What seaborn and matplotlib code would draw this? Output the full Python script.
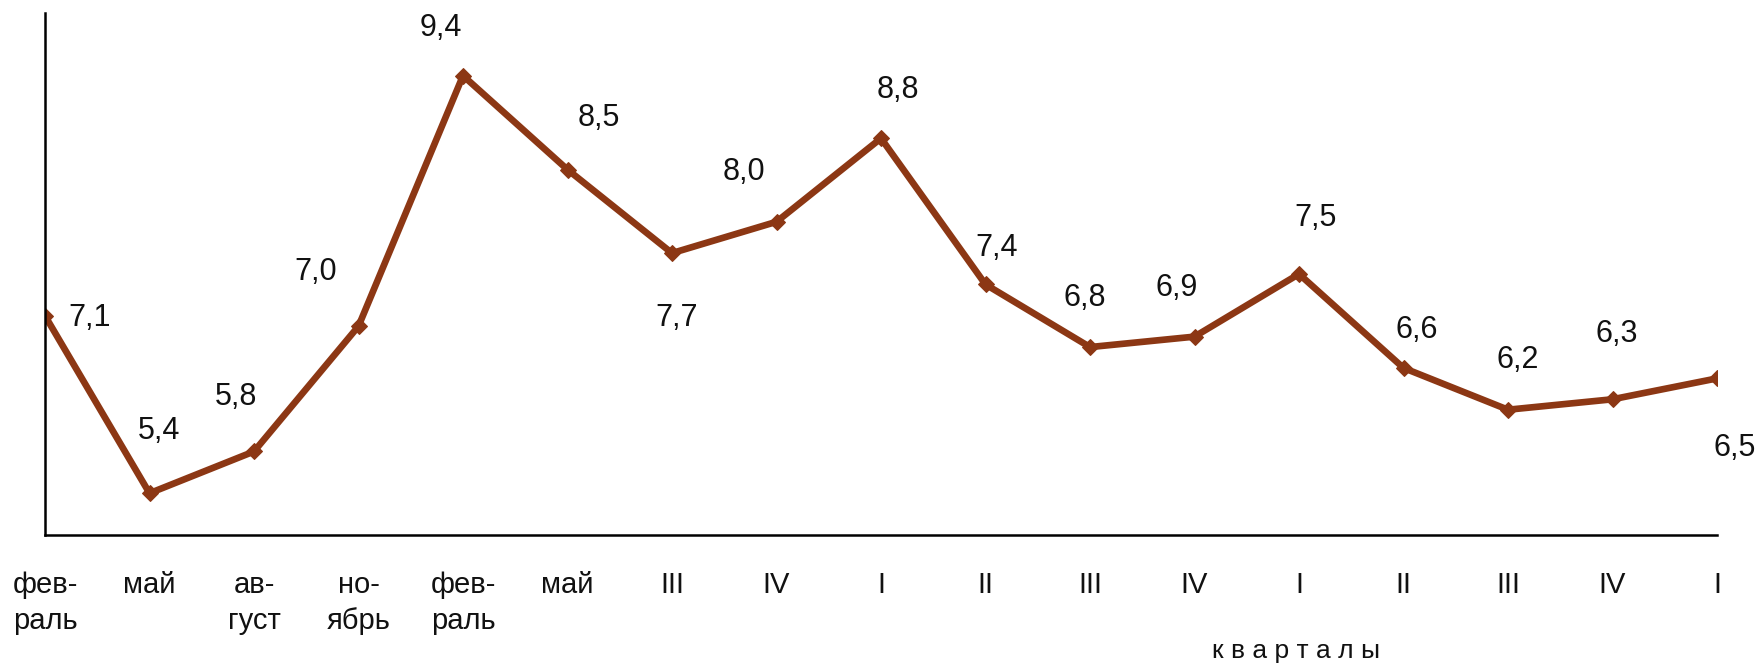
import pandas as pd
import matplotlib.pyplot as plt
import seaborn as sns

# Данные графика
periods = ["фев-\nраль", "май", "ав-\nгуст", "но-\nябрь", "фев-\nраль", "май",
           "III", "IV", "I", "II", "III", "IV", "I", "II", "III", "IV", "I"]
values = [7.1, 5.4, 5.8, 7.0, 9.4, 8.5, 7.7, 8.0, 8.8, 7.4, 6.8, 6.9, 7.5, 6.6, 6.2, 6.3, 6.5]

# смещения подписей (пиксели: вправо, вниз)
label_dx = [45, 10, -18, -43, -22, 31, 5, -33, 17, 11, -5, -18, 17, 13, 10, 4, 18]
label_dy = [2, -62, -54, -54, -48, -52, 65, -50, -48, -36, -49, -49, -56, -38, -50, -65, 70]

sns.set_style("white")
plt.rcParams['font.family'] = ['Liberation Sans', 'DejaVu Sans']

df = pd.DataFrame({"pos": range(len(values)), "value": values})

fig = plt.figure(figsize=(17.61, 6.66), dpi=100)
ax = fig.add_axes([45 / 1761, 1 - 535 / 666, (1717 - 45) / 1761, (535 - 13) / 666])

color = "#8c3714"
sns.lineplot(data=df, x="pos", y="value", ax=ax, color=color, linewidth=4.8,
             marker="D", markersize=8, markeredgecolor=color, markerfacecolor=color)

for i, v in enumerate(values):
    ax.annotate(f"{v:.1f}".replace(".", ","), (i, v),
                xytext=(label_dx[i], -label_dy[i]), textcoords="offset pixels",
                ha="center", va="center", fontsize=22, color="#111111")

ax.set_xlim(0, len(values) - 1)
ax.set_ylim(5, 10)
ax.set_xticks(range(len(values)))
ax.set_xticklabels(periods, fontsize=21, linespacing=1.35, color="#111111")
ax.set_yticks(range(5, 11))
ax.set_yticklabels([])
ax.set_xlabel("")
ax.set_ylabel("")

for s in ["top", "right"]:
    ax.spines[s].set_visible(False)
for s in ["left", "bottom"]:
    ax.spines[s].set_color("black")
    ax.spines[s].set_linewidth(1.8)
ax.tick_params(axis="both", direction="out", length=7.2, width=1.8, color="black")
ax.tick_params(axis="x", pad=19)

fig.text(1296 / 1761, 1 - 658 / 666, "к в а р т а л ы", ha="center", va="baseline",
         fontsize=19, color="#111111")

fig.savefig("out.png", dpi=100)
